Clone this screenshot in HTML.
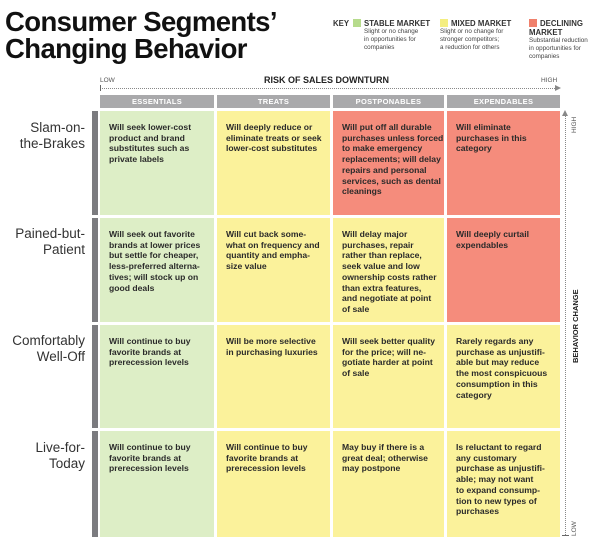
<!DOCTYPE html>
<html><head><meta charset="utf-8">
<style>
*{margin:0;padding:0;box-sizing:border-box}
body{width:600px;height:556px;background:#fff;position:relative;overflow:hidden;font-family:"Liberation Sans",Arial,sans-serif;color:#222}
.a{position:absolute}
.title{left:5px;top:8px;font-size:27.5px;font-weight:bold;line-height:27px;letter-spacing:-0.6px;color:#111}
.key{font-size:7.8px;font-weight:bold;color:#333}
.kd{font-size:6.3px;color:#444;line-height:8px}
.sw{width:8px;height:8px;display:inline-block;vertical-align:-1px;margin-right:3px}
.hdr{top:95px;height:13px;background:#a9a9ab;color:#fff;font-size:7.5px;font-weight:bold;text-align:center;line-height:13px;letter-spacing:0.3px}
.cell{font-size:8.6px;line-height:10.7px;padding:11px 0 0 9px;color:#2a2a2a;font-weight:bold}
.g{background:#ddeec6}.y{background:#fbf29b}.r{background:#f58c7c}
.lbl{left:0;width:85px;text-align:right;font-size:13.5px;line-height:16px;color:#333}
.bar{left:92px;width:6px;background:#7b7b7f}
</style></head><body>
<div class="a title">Consumer Segments’<br>Changing Behavior</div>

<div class="a key" style="left:333px;top:19px">KEY</div>
<div class="a" style="left:353px;top:19px"><div class="key"><span class="sw" style="background:#b6db8c"></span>STABLE MARKET</div><div class="kd" style="margin-left:11px">Slight or no change<br>in opportunities for<br>companies</div></div>
<div class="a" style="left:440px;top:19px"><div class="key"><span class="sw" style="background:#f4ee80"></span>MIXED MARKET</div><div class="kd">Slight or no change for<br>stronger competitors;<br>a reduction for others</div></div>
<div class="a" style="left:529px;top:19px"><div class="key"><span class="sw" style="background:#f0806c"></span>DECLINING<br>MARKET</div><div class="kd">Substantial reduction<br>in opportunities for<br>companies</div></div>

<div class="a" style="left:100px;top:77px;font-size:6.5px;color:#555">LOW</div>
<div class="a" style="left:264px;top:75px;font-size:9px;font-weight:bold;color:#222">RISK OF SALES DOWNTURN</div>
<div class="a" style="left:541px;top:77px;font-size:6.5px;color:#555">HIGH</div>
<div class="a" style="left:100px;top:88px;width:457px;border-top:1px dotted #888"></div>
<div class="a" style="left:100px;top:85px;width:1px;height:6px;background:#666"></div>
<div class="a" style="left:555px;top:85px;width:0;height:0;border-left:6px solid #888;border-top:3px solid transparent;border-bottom:3px solid transparent"></div>

<div class="a hdr" style="left:100px;width:114px">ESSENTIALS</div>
<div class="a hdr" style="left:217px;width:113px">TREATS</div>
<div class="a hdr" style="left:333px;width:111px">POSTPONABLES</div>
<div class="a hdr" style="left:447px;width:113px">EXPENDABLES</div>

<div class="a lbl" style="top:120px">Slam-on-<br>the-Brakes</div>
<div class="a lbl" style="top:226px">Pained-but-<br>Patient</div>
<div class="a lbl" style="top:333px">Comfortably<br>Well-Off</div>
<div class="a lbl" style="top:440px">Live-for-<br>Today</div>
<div class="a bar" style="top:111px;height:104px"></div>
<div class="a bar" style="top:218px;height:104px"></div>
<div class="a bar" style="top:325px;height:103px"></div>
<div class="a bar" style="top:431px;height:106px"></div>

<div class="a cell g" style="left:100px;top:111px;width:114px;height:104px">Will seek lower-cost<br>product and brand<br>substitutes such as<br>private labels</div>
<div class="a cell y" style="left:217px;top:111px;width:113px;height:104px">Will deeply reduce or<br>eliminate treats or seek<br>lower-cost substitutes</div>
<div class="a cell r" style="left:333px;top:111px;width:111px;height:104px">Will put off all durable<br>purchases unless forced<br>to make emergency<br>replacements; will delay<br>repairs and personal<br>services, such as dental<br>cleanings</div>
<div class="a cell r" style="left:447px;top:111px;width:113px;height:104px">Will eliminate<br>purchases in this<br>category</div>

<div class="a cell g" style="left:100px;top:218px;width:114px;height:104px">Will seek out favorite<br>brands at lower prices<br>but settle for cheaper,<br>less-preferred alterna-<br>tives; will stock up on<br>good deals</div>
<div class="a cell y" style="left:217px;top:218px;width:113px;height:104px">Will cut back some-<br>what on frequency and<br>quantity and empha-<br>size value</div>
<div class="a cell y" style="left:333px;top:218px;width:111px;height:104px">Will delay major<br>purchases, repair<br>rather than replace,<br>seek value and low<br>ownership costs rather<br>than extra features,<br>and negotiate at point<br>of sale</div>
<div class="a cell r" style="left:447px;top:218px;width:113px;height:104px">Will deeply curtail<br>expendables</div>

<div class="a cell g" style="left:100px;top:325px;width:114px;height:103px">Will continue to buy<br>favorite brands at<br>prerecession levels</div>
<div class="a cell y" style="left:217px;top:325px;width:113px;height:103px">Will be more selective<br>in purchasing luxuries</div>
<div class="a cell y" style="left:333px;top:325px;width:111px;height:103px">Will seek better quality<br>for the price; will ne-<br>gotiate harder at point<br>of sale</div>
<div class="a cell y" style="left:447px;top:325px;width:113px;height:103px">Rarely regards any<br>purchase as unjustifi-<br>able but may reduce<br>the most conspicuous<br>consumption in this<br>category</div>

<div class="a cell g" style="left:100px;top:431px;width:114px;height:106px">Will continue to buy<br>favorite brands at<br>prerecession levels</div>
<div class="a cell y" style="left:217px;top:431px;width:113px;height:106px">Will continue to buy<br>favorite brands at<br>prerecession levels</div>
<div class="a cell y" style="left:333px;top:431px;width:111px;height:106px">May buy if there is a<br>great deal; otherwise<br>may postpone</div>
<div class="a cell y" style="left:447px;top:431px;width:113px;height:106px">Is reluctant to regard<br>any customary<br>purchase as unjustifi-<br>able; may not want<br>to expand consump-<br>tion to new types of<br>purchases</div>

<div class="a" style="left:565px;top:116px;height:419px;border-left:1px dotted #888"></div>
<div class="a" style="left:562px;top:110px;width:0;height:0;border-bottom:6px solid #888;border-left:3px solid transparent;border-right:3px solid transparent"></div>
<div class="a" style="left:562px;top:535px;width:7px;height:1px;background:#666"></div>
<div class="a" style="left:571px;top:113px;width:20px;height:10px;font-size:6.5px;color:#555;transform-origin:0 0;transform:translate(0,20px) rotate(-90deg)">HIGH</div>
<div class="a" style="left:571px;top:300px;width:80px;font-size:7.5px;font-weight:bold;color:#222;transform-origin:0 0;transform:translate(0,63px) rotate(-90deg);white-space:nowrap">BEHAVIOR CHANGE</div>
<div class="a" style="left:571px;top:520px;width:20px;font-size:6.5px;color:#555;transform-origin:0 0;transform:translate(0,16px) rotate(-90deg)">LOW</div>
</body></html>
